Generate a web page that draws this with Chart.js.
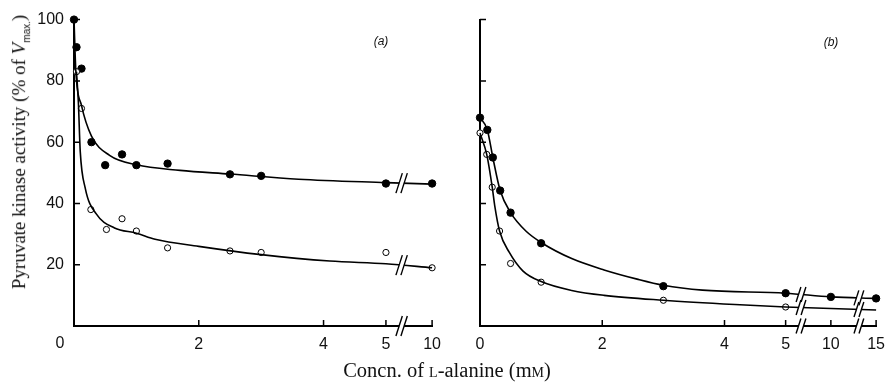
<!DOCTYPE html>
<html>
<head>
<meta charset="utf-8">
<script src="https://cdn.jsdelivr.net/npm/chart.js@4.4.0/dist/chart.umd.min.js"></script>
<style>
  body{margin:0;background:#fff;width:894px;height:382px;position:relative;overflow:hidden;color:#111;font-family:"Liberation Serif",serif}
  canvas{position:absolute;top:0}
  #chartA{left:0}
  #chartB{left:450px}
  .ytitle{position:absolute;left:20px;top:152px;transform:translate(-50%,-50%) rotate(-90deg);white-space:nowrap;font-size:19px}
  .ytitle sub{font:10px "Liberation Sans",sans-serif}
  .xtitle{position:absolute;left:447px;top:370px;transform:translate(-50%,-50%);white-space:nowrap;font-size:20.5px}
  .sc{font-variant:small-caps}
  .pl{position:absolute;transform:translate(-50%,-50%);font:italic 12px "Liberation Sans",sans-serif}
</style>
</head>
<body>
<canvas id="chartA" width="450" height="382"></canvas>
<canvas id="chartB" width="444" height="382"></canvas>
<div class="ytitle">Pyruvate kinase activity (% of <i>V</i><sub>max.</sub>)</div>
<div class="xtitle">Concn. of <span class="sc">l</span>-alanine (m<span class="sc">m</span>)</div>
<div class="pl" style="left:381px;top:41px">(a)</div>
<div class="pl" style="left:831px;top:42px">(b)</div>
<script>
// DATA (concentrations in mM, activity in % of Vmax)

// panel (a)
const aFilledX = [0, 0.04, 0.12, 0.28, 0.5, 0.77, 1.0, 1.5, 2.5, 3.0, 5, 10];
const aFilledY = [100, 91, 84, 60, 52.5, 56, 52.5, 53, 49.5, 49, 46.5, 46.5];
const aOpenX = [0.04, 0.12, 0.27, 0.52, 0.77, 1.0, 1.5, 2.5, 3.0, 5, 10];
const aOpenY = [83, 71, 38, 31.5, 35, 31, 25.5, 24.5, 24, 24, 19];
const aFilledCurveX = [0, 0.03, 0.12, 0.28, 0.57, 1.0, 1.7, 2.5, 3.6, 5, 10];
const aFilledCurveY = [100, 83, 72, 62, 55.7, 52.6, 50.8, 49.6, 47.9, 46.8, 46.3];
const aOpenCurveX = [0.04, 0.07, 0.1, 0.18, 0.36, 0.65, 1.0, 1.3, 2.0, 3.0, 4.1, 5, 10];
const aOpenCurveY = [83, 73, 57, 45, 36.5, 32, 30.3, 28.3, 26, 23.3, 21.2, 20.3, 19];
const aTicks = [2, 4, 5, 10];
const aBreaks = [6.7];

// panel (b)
const bFilledX = [0, 0.12, 0.21, 0.33, 0.5, 1.0, 3.0, 5, 10, 15];
const bFilledY = [68, 64, 55, 44.2, 37, 27, 13, 10.7, 9.5, 9.0];
const bOpenX = [0, 0.11, 0.2, 0.32, 0.5, 1.0, 3.0, 5];
const bOpenY = [63, 56, 45.3, 31, 20.4, 14.3, 8.4, 6.2];
const bFilledCurveX = [0, 0.12, 0.21, 0.33, 0.5, 0.75, 1.02, 1.5, 2.03, 2.57, 3.0, 3.64, 5, 10, 15];
const bFilledCurveY = [68, 64, 55, 44.2, 37, 31, 27, 22, 18.3, 15.3, 13.3, 11.7, 10.7, 9.5, 9.0];
const bOpenCurveX = [0, 0.11, 0.2, 0.24, 0.32, 0.48, 0.7, 1.0, 1.5, 2.03, 3.0, 4.17, 5, 10, 15];
const bOpenCurveY = [63, 56, 45.3, 39.4, 31, 24, 18, 14.5, 11.6, 10, 8.4, 7, 6.2, 5.7, 5.2];
const bTicks = [0, 2, 4, 5, 10, 15];
const bBreaks = [6.7, 13.1];

const yTicks = [0, 20, 40, 60, 80, 100];

// broken x axis: linear up to 5, squeezed beyond
const BREAK_AT = 5, SQUEEZE = 0.148;
function disp(x){
  return x <= BREAK_AT ? x : BREAK_AT + (x - BREAK_AT) * SQUEEZE;
}
function pts(xs, ys){
  return xs.map((x, i) => ({x: disp(x), y: ys[i]}));
}

const tickFont = {family:'"Liberation Sans", Arial, sans-serif', size:16};

// ticks point inward
const inTicks = {
  id:'inTicks',
  afterDatasetsDraw(chart){
    const {ctx, chartArea:a, scales:{x, y}} = chart;
    ctx.save();
    ctx.strokeStyle = '#000';
    ctx.lineWidth = 1.5;
    ctx.beginPath();
    x.ticks.forEach(t => {
      if(t.value === 0) return;
      const px = x.getPixelForValue(t.value);
      ctx.moveTo(px, a.bottom); ctx.lineTo(px, a.bottom - 6);
    });
    y.ticks.forEach(t => {
      if(t.value === 0) return;
      const py = y.getPixelForValue(t.value);
      ctx.moveTo(a.left, py); ctx.lineTo(a.left + 6, py);
    });
    ctx.stroke();
    ctx.restore();
  }
};

// "//" axis-break marks on the axis and each curve
const breaks = {
  id:'breaks',
  afterDatasetsDraw(chart, args, o){
    const ctx = chart.ctx, xs = chart.scales.x, area = chart.chartArea;
    ctx.save();
    o.at.forEach(b => {
      const bx = xs.getPixelForValue(disp(b));
      const ys = [area.bottom];
      chart.data.datasets.forEach((ds, i) => {
        if(!ds.curve) return;
        const el = chart.getDatasetMeta(i).data;
        for(let k = 1; k < el.length; k++){
          if(el[k-1].x <= bx && el[k].x >= bx){
            const t = (bx - el[k-1].x) / (el[k].x - el[k-1].x);
            ys.push(el[k-1].y + t * (el[k].y - el[k-1].y));
            break;
          }
        }
      });
      ys.forEach(y => {
        ctx.fillStyle = '#fff';
        ctx.fillRect(bx - o.gap / 2, y - 3, o.gap, 6);
        ctx.strokeStyle = '#000';
        ctx.lineWidth = 1.4;
        [-o.gap / 2, o.gap / 2].forEach(d => {
          ctx.beginPath();
          ctx.moveTo(bx + d - o.h * 0.16, y + o.h / 2);
          ctx.lineTo(bx + d + o.h * 0.16, y - o.h / 2);
          ctx.stroke();
        });
      });
    });
    ctx.restore();
  }
};

// lone "0" at the origin of panel (a)
const originLabel = {
  id:'originLabel',
  afterDraw(chart, args, o){
    if(!o.show) return;
    const ctx = chart.ctx;
    ctx.save();
    ctx.font = '16px "Liberation Sans", Arial, sans-serif';
    ctx.fillStyle = '#111';
    ctx.textAlign = 'center';
    ctx.textBaseline = 'middle';
    ctx.fillText('0', chart.chartArea.left - 14, chart.chartArea.bottom + 18);
    ctx.restore();
  }
};

function curve(data){
  return {data, curve:true, borderColor:'#000', borderWidth:1.6, pointRadius:0,
    cubicInterpolationMode:'monotone', fill:false, clip:false};
}
function dots(data, filled){
  return {data, showLine:false, pointRadius: filled ? 3.7 : 3.1,
    pointBackgroundColor: filled ? '#000' : '#fff', pointBorderColor:'#000',
    pointBorderWidth:1, clip:false};
}

function makeChart(id, cfg){
  const xMax = disp(cfg.ticks[cfg.ticks.length - 1]);
  return new Chart(document.getElementById(id), {
    type:'line',
    data:{datasets:[
      curve(pts(cfg.fcX, cfg.fcY)),
      curve(pts(cfg.ocX, cfg.ocY)),
      dots(pts(cfg.oX, cfg.oY), false),
      dots(pts(cfg.fX, cfg.fY), true)
    ]},
    plugins:[inTicks, breaks, originLabel],
    options:{
      responsive:false,
      animation:false,
      events:[],
      layout:{padding:{left:0, top:16, right:cfg.padRight, bottom:0}},
      plugins:{
        legend:{display:false},
        tooltip:{enabled:false},
        breaks:{at:cfg.breaks, gap:cfg.gap, h:cfg.h},
        originLabel:{show:cfg.origin}
      },
      scales:{
        x:{
          type:'linear', min:0, max:xMax,
          grid:{display:false, drawTicks:false},
          border:{display:true, color:'#000', width:2},
          afterBuildTicks: s => { s.ticks = cfg.ticks.map(v => ({value: disp(v)})); },
          afterFit: s => { s.height = 56; },
          ticks:{autoSkip:false, maxRotation:0, padding:9, color:'#111', font:tickFont,
            callback:(v, i) => String(cfg.ticks[i])}
        },
        y:{
          min:0, max:100,
          grid:{display:false, drawTicks:false},
          border:{display:true, color:'#000', width:2},
          afterBuildTicks: s => { s.ticks = yTicks.map(v => ({value:v})); },
          afterFit: s => { s.width = cfg.yWidth; },
          ticks:{padding:10, color:'#111', font:tickFont,
            callback: v => (cfg.yLabels && v !== 0) ? String(v) : ''}
        }
      }
    }
  });
}

makeChart('chartA', {
  fX:aFilledX, fY:aFilledY, oX:aOpenX, oY:aOpenY,
  fcX:aFilledCurveX, fcY:aFilledCurveY, ocX:aOpenCurveX, ocY:aOpenCurveY,
  ticks:aTicks, breaks:aBreaks, yWidth:74, padRight:16, yLabels:true, origin:true, gap:5, h:20
});
makeChart('chartB', {
  fX:bFilledX, fY:bFilledY, oX:bOpenX, oY:bOpenY,
  fcX:bFilledCurveX, fcY:bFilledCurveY, ocX:bOpenCurveX, ocY:bOpenCurveY,
  ticks:bTicks, breaks:bBreaks, yWidth:30, padRight:10, yLabels:false, origin:false, gap:5, h:15
});
</script>
</body>
</html>
